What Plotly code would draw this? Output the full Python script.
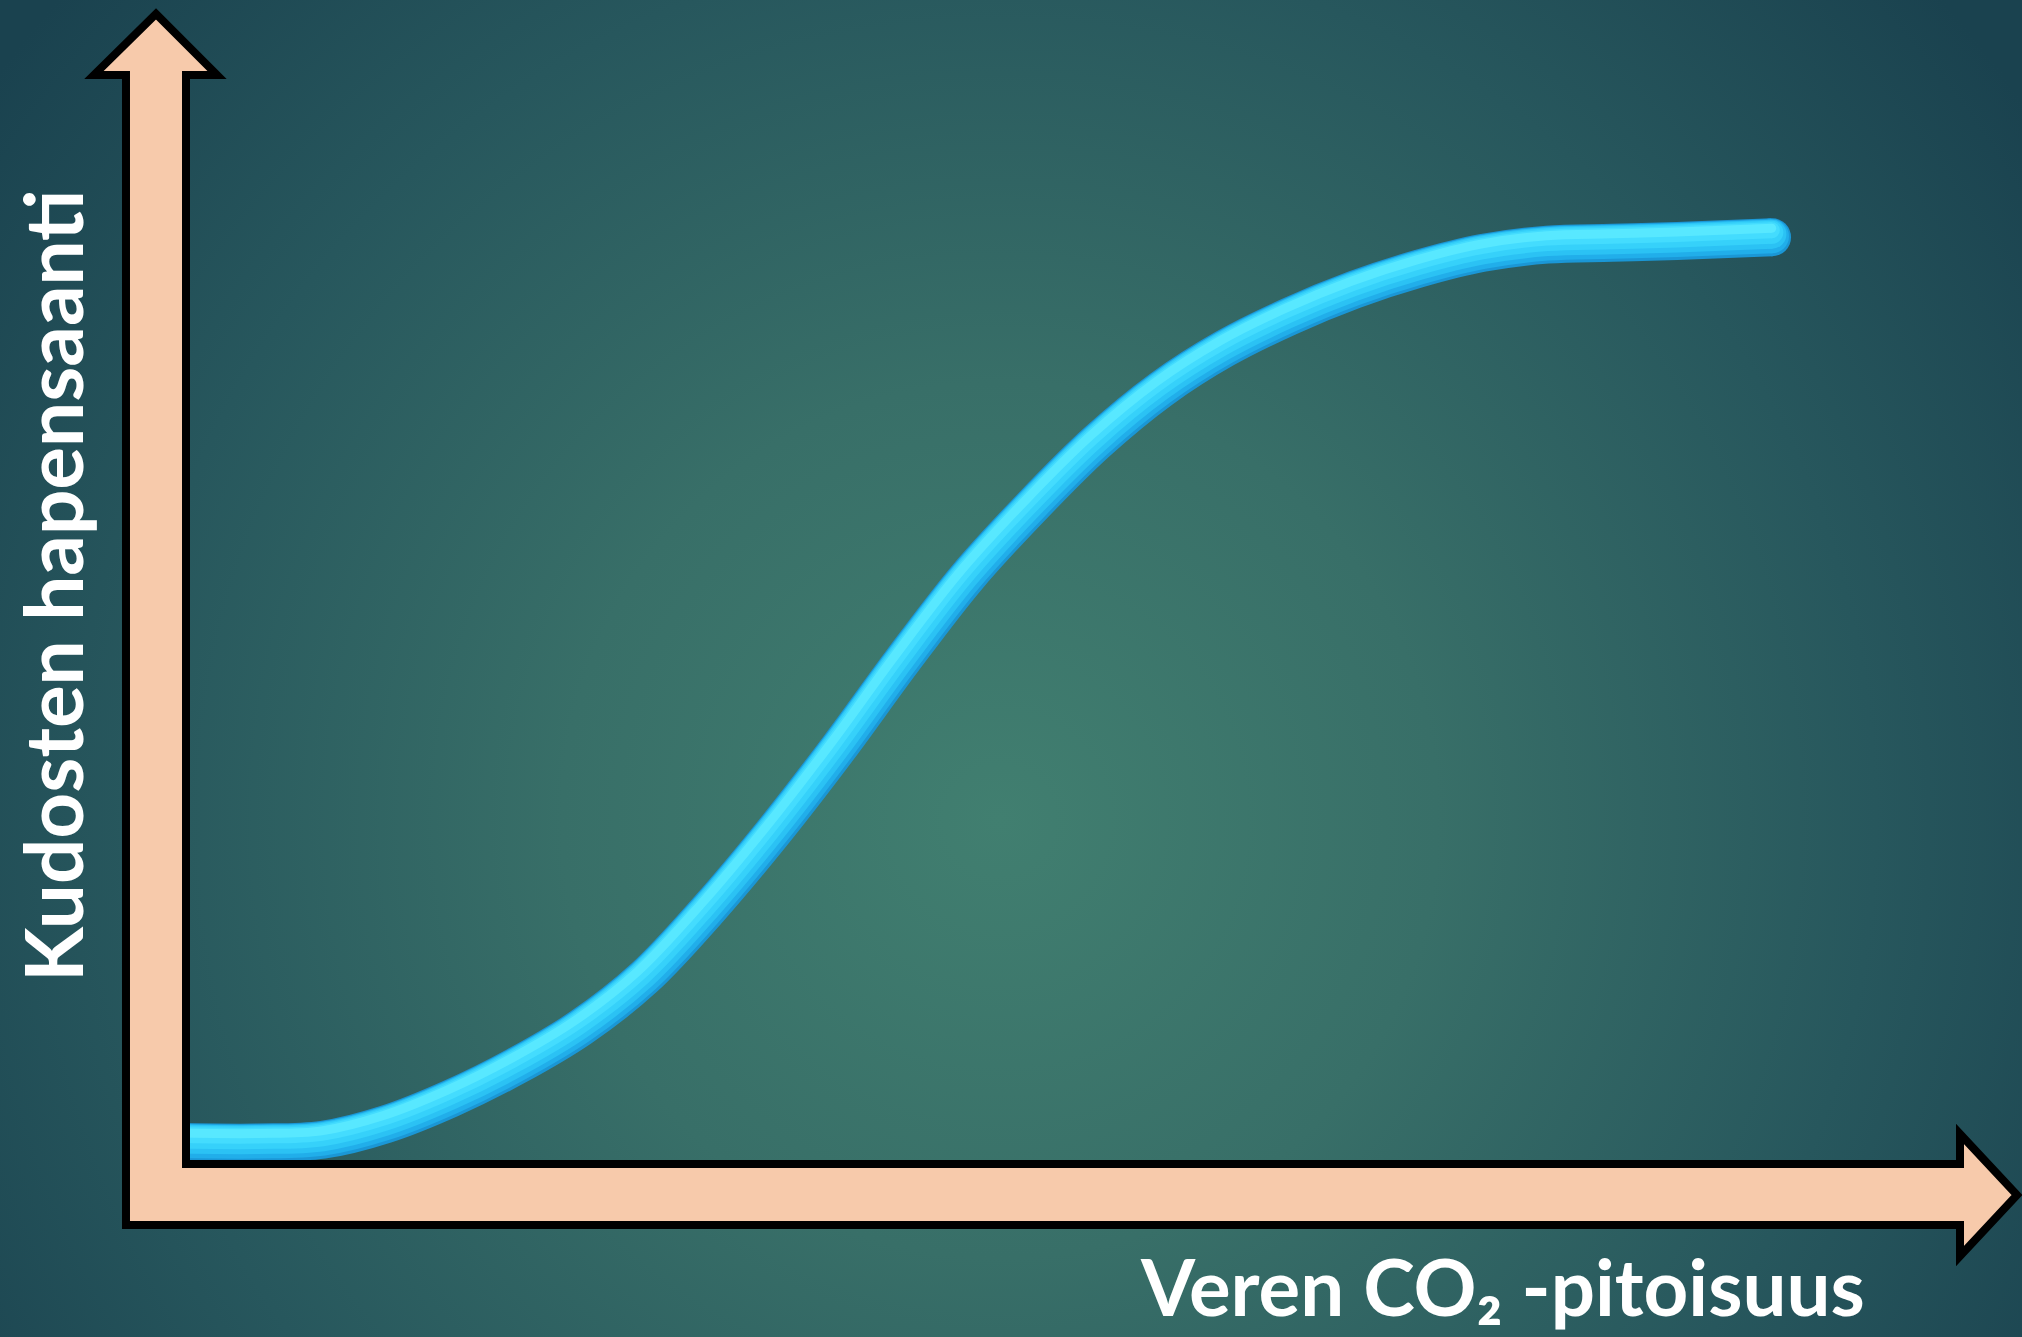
import base64
import math
import plotly.graph_objects as go

# --- data: tissue oxygen supply vs. blood CO2 level (arbitrary units 0-100)
co2 = [0.0, 4.3, 8.4, 12.4, 16.5, 20.6, 24.7, 28.7, 32.8, 36.9, 41.0, 45.0,
       49.1, 53.2, 57.3, 61.4, 65.4, 69.5, 73.6, 77.7, 81.7, 85.8, 89.9, 94.0, 100.0]
oxygen = [2.0, 1.9, 2.2, 3.9, 6.7, 10.2, 14.4, 19.8, 27.3, 35.7, 44.8, 54.2,
          63.3, 71.0, 78.0, 83.8, 88.2, 91.7, 94.6, 96.9, 98.6, 99.5, 99.7, 99.9, 100.3]

x_label = "Veren CO₂ -pitoisuus"
y_label = "Kudosten hapensaanti"

W, H = 2022, 1337
X_RANGE = [-12.01, 115.80]
Y_RANGE = [-19.24, 126.09]
UX = (X_RANGE[1] - X_RANGE[0]) / W   # data units per pixel
UY = (Y_RANGE[1] - Y_RANGE[0]) / H


def px(x, y):
    """Canvas pixel position -> paper coordinates."""
    return x / W, 1 - y / H


# radial background
svg = f"""<svg xmlns='http://www.w3.org/2000/svg' width='{W}' height='{H}' viewBox='0 0 {W} {H}' preserveAspectRatio='none'>
<defs><radialGradient id='g' gradientUnits='userSpaceOnUse' cx='1000' cy='820' r='1250'>
<stop offset='0' stop-color='#417f70'/>
<stop offset='0.35' stop-color='#386f68'/>
<stop offset='0.7' stop-color='#27575d'/>
<stop offset='1' stop-color='#1a424f'/>
</radialGradient></defs>
<rect width='{W}' height='{H}' fill='url(#g)'/></svg>"""
bg_uri = "data:image/svg+xml;base64," + base64.b64encode(svg.encode()).decode()

fig = go.Figure()

# unit normals (pointing up/left on screen) along the curve, for the tube shading
normals = []
n = len(co2)
for i in range(n):
    a, b = max(i - 1, 0), min(i + 1, n - 1)
    dx = (co2[b] - co2[a]) / UX
    dy = (oxygen[b] - oxygen[a]) / UY
    L = math.hypot(dx, dy) or 1.0
    normals.append((-dy / L, dx / L))  # rotate tangent 90° towards upper side

# tube-like curve: stacked strokes from dark rim to bright highlight
layers = [
    (38, "#1b97d6", 0),
    (34, "#21aeea", 1),
    (29, "#2bc2f4", 3),
    (23, "#36d1fa", 5),
    (16, "#44dcfe", 7),
    (9, "#58e8ff", 9),
]
for width, color, off in layers:
    xs = [co2[i] + normals[i][0] * off * UX for i in range(n)]
    ys = [oxygen[i] + normals[i][1] * off * UY for i in range(n)]
    xs[0] -= 2
    fig.add_trace(go.Scatter(
        x=xs, y=ys, mode="lines",
        line=dict(color=color, width=width, shape="spline", smoothing=1.0),
        hoverinfo="skip", showlegend=False,
    ))
    fig.add_trace(go.Scatter(
        x=[xs[-1]], y=[ys[-1]], mode="markers",
        marker=dict(color=color, size=width, line=dict(width=0)),
        hoverinfo="skip", showlegend=False,
    ))

# L-shaped double arrow forming the axes
pts = [(126, 1225), (126, 75), (94, 75), (156, 14), (217, 75), (186, 75),
       (186, 1164), (1960, 1164), (1960, 1134), (2017, 1195), (1960, 1256),
       (1960, 1225)]
path = "M " + " L ".join(f"{px(a, b)[0]:.5f},{px(a, b)[1]:.5f}" for a, b in pts) + " Z"
fig.add_shape(type="path", path=path, xref="paper", yref="paper",
              fillcolor="#f7caab", line=dict(color="black", width=8),
              layer="above")

font = dict(family="Lato, Open Sans, sans-serif", color="white", weight="bold")
lx, ly = px(52, 586)
fig.add_annotation(text=y_label, x=lx, y=ly, xref="paper", yref="paper",
                   textangle=-90, showarrow=False, xanchor="center",
                   yanchor="middle", font=dict(size=80, **font))
bx, by = px(1502, 1286)
fig.add_annotation(text=x_label, x=bx, y=by, xref="paper", yref="paper",
                   showarrow=False, xanchor="center", yanchor="middle",
                   font=dict(size=78, **font))

fig.update_layout(
    width=W, height=H,
    margin=dict(l=0, r=0, t=0, b=0),
    paper_bgcolor="#1a424f",
    plot_bgcolor="rgba(0,0,0,0)",
    images=[dict(source=bg_uri, xref="paper", yref="paper", x=0, y=1,
                 sizex=1, sizey=1, xanchor="left", yanchor="top",
                 sizing="stretch", layer="below")],
    xaxis=dict(range=X_RANGE, visible=False, fixedrange=True),
    yaxis=dict(range=Y_RANGE, visible=False, fixedrange=True),
    showlegend=False,
)

fig.write_html("out.html", config={"displayModeBar": False})
